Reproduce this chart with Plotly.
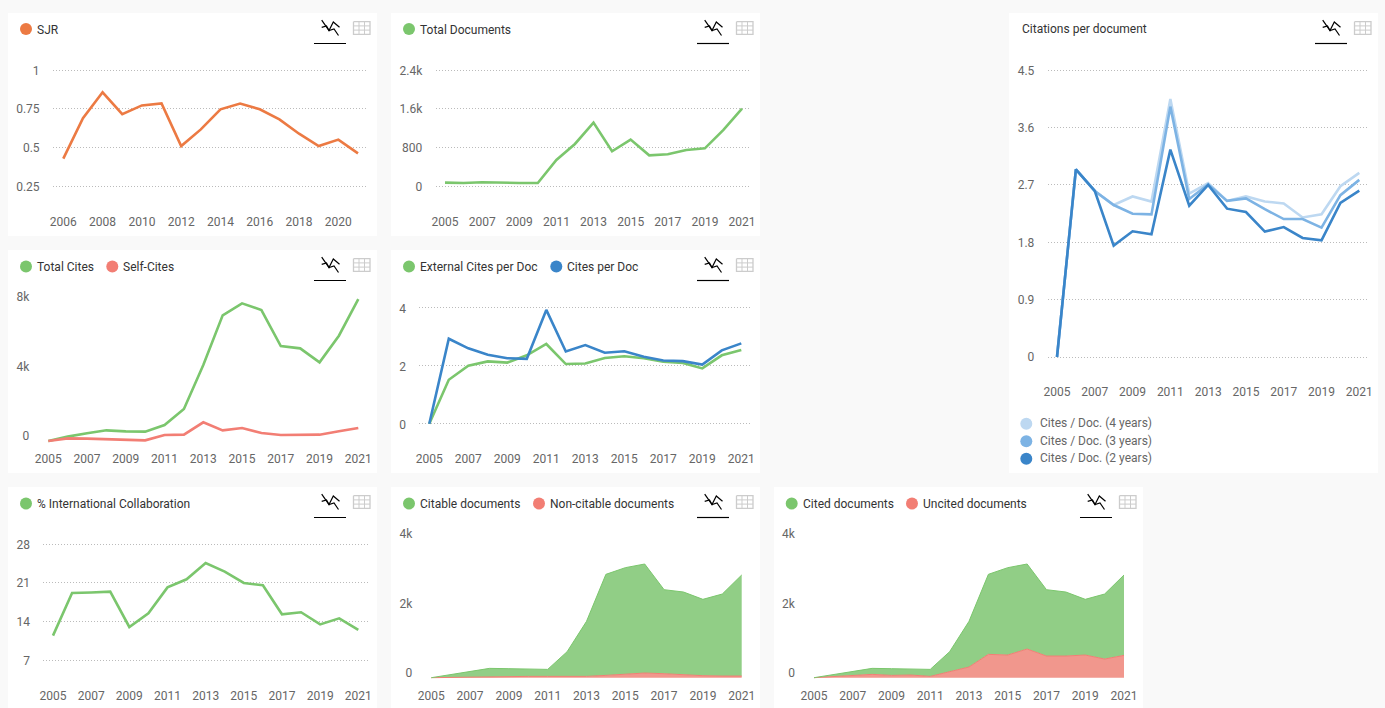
import plotly.graph_objects as go

W, H = 1385, 708
years = list(range(2005, 2022))
sjr_years = list(range(2006, 2022))

sjr = [0.429, 0.69, 0.858, 0.717, 0.773, 0.786, 0.51, 0.618, 0.748, 0.785, 0.748, 0.683, 0.59, 0.51, 0.552, 0.463]
total_documents = [76, 69, 83, 69, 69, 69, 545, 876, 1317, 724, 966, 641, 662, 752, 786, 1166, 1607]
total_cites = [0, 250, 440, 612, 555, 536, 918, 1837, 4364, 7215, 7904, 7520, 5455, 5320, 4517, 6047, 8153]
self_cites = [0, 153, 134, 115, 96, 38, 344, 364, 1072, 612, 746, 459, 344, 344, 364, 555, 746]
external_per_doc = [0, 1.51, 1.99, 2.14, 2.10, 2.35, 2.74, 2.05, 2.07, 2.26, 2.32, 2.25, 2.13, 2.09, 1.90, 2.35, 2.53]
cites_per_doc = [0, 2.92, 2.59, 2.37, 2.25, 2.23, 3.91, 2.48, 2.70, 2.44, 2.49, 2.30, 2.17, 2.15, 2.03, 2.52, 2.76]
intl_collab = [11.47, 19.19, 19.28, 19.43, 13.03, 15.5, 20.2, 21.66, 24.6, 23.05, 21.0, 20.58, 15.33, 15.7, 13.5, 14.6, 12.5]
citable = [0, 77, 153, 231, 222, 212, 202, 721, 1587, 2914, 3067, 3144, 2423, 2394, 2202, 2365, 2914]
non_citable = [0, 10, 20, 38, 38, 38, 38, 29, 38, 67, 106, 135, 115, 77, 58, 48, 48]
cited = [0, 58, 125, 173, 193, 173, 202, 577, 1317, 2308, 2519, 2452, 1913, 1846, 1606, 1875, 2318]
uncited = [0, 29, 48, 96, 67, 77, 38, 173, 308, 673, 654, 827, 625, 625, 654, 538, 644]
cpd_4y = [0, 2.945, 2.606, 2.385, 2.52, 2.44, 4.05, 2.565, 2.73, 2.45, 2.52, 2.44, 2.41, 2.19, 2.24, 2.68, 2.89]
cpd_3y = [0, 2.945, 2.606, 2.385, 2.249, 2.238, 3.93, 2.48, 2.71, 2.45, 2.49, 2.32, 2.165, 2.165, 2.03, 2.54, 2.78]
cpd_2y = [0, 2.945, 2.606, 1.748, 1.973, 1.926, 3.255, 2.375, 2.70, 2.328, 2.275, 1.968, 2.04, 1.868, 1.83, 2.42, 2.61]

GREEN, RED, ORANGE, BLUE = "#7BC66D", "#F27E74", "#EC7A43", "#3A85C9"
BLUE_L, BLUE_M = "#BDD8F1", "#7DB3E4"
GREEN_F, RED_F = "#91CE86", "#F1978D"
BG, TICK, LEG = "#F9F9F9", "#666666", "#333333"
FONT = "Roboto"

fig = go.Figure()
shapes, annos = [], []

def fx(p): return p / W
def fy(p): return 1 - p / H

def circle(cx, cy, color, r=6):
    shapes.append(dict(type="circle", xref="paper", yref="paper", x0=fx(cx - r), x1=fx(cx + r),
                       y0=fy(cy + r), y1=fy(cy - r), fillcolor=color, line=dict(width=0)))

def label(x, y, text, color=LEG):
    annos.append(dict(xref="paper", yref="paper", x=fx(x - 1.5), y=fy(y), text=text, showarrow=False,
                      xanchor="left", yanchor="middle", align="left",
                      font=dict(family=FONT, size=12, color=color)))

def seg(pts, color, width):
    d = "M " + " L ".join(f"{fx(x):.5f},{fy(y):.5f}" for x, y in pts)
    shapes.append(dict(type="path", xref="paper", yref="paper", path=d, line=dict(color=color, width=width)))

def card(x0, y0, x1, y1):
    shapes.append(dict(type="rect", layer="below", xref="paper", yref="paper", x0=fx(x0), x1=fx(x1),
                       y0=fy(y1), y1=fy(y0), fillcolor="#FFFFFF", line=dict(width=0)))
    L, T = x0, y0
    seg([(L + 306, T + 30.5), (L + 338, T + 30.5)], "#000000", 1.2)
    seg([(L + 313.7, T + 7.2), (L + 321, T + 17.5), (L + 325.3, T + 9), (L + 331.5, T + 14.3)], "#000000", 1.2)
    seg([(L + 313.7, T + 14.3), (L + 318.5, T + 13), (L + 321, T + 17.5), (L + 326, T + 16), (L + 330.5, T + 22.5)], "#000000", 1.2)
    seg([(L + 345.5, T + 8.7), (L + 362, T + 8.7), (L + 362, T + 21.3), (L + 345.5, T + 21.3), (L + 345.5, T + 8.7)], "#CCCCCC", 1.3)
    for k in (12.9, 17.1):
        seg([(L + 345.5, T + k), (L + 362, T + k)], "#CCCCCC", 1)
    for k in (351, 356.5):
        seg([(L + k, T + 8.7), (L + k, T + 21.3)], "#CCCCCC", 1)

def axes(i, gl, gr, x0px, x0v, x1px, x1v, ytop, ybot, y0px, y0v, y1px, y1v, tickx, tickvals, ticktext, grid=True, shift=0):
    sx = (x1v - x0v) / (x1px - x0px)
    sy = (y1v - y0v) / (y1px - y0px)
    xr = [x0v + (gl - x0px) * sx, x0v + (gr - x0px) * sx]
    yr = [y0v + (ybot - y0px) * sy, y0v + (ytop - y0px) * sy]
    xa = dict(domain=[fx(gl), fx(gr)], range=xr, tickvals=tickx, showgrid=False, zeroline=False, showline=False,
              automargin=False, ticks="", tickfont=dict(family=FONT, size=12, color=TICK), anchor=f"y{i}", tickangle=0)
    ya = dict(domain=[fy(ybot), fy(ytop)], range=yr, tickvals=tickvals, ticktext=ticktext, zeroline=False, showline=False,
              automargin=False, showgrid=grid, gridcolor="#BBBBBB", gridwidth=1, griddash="1px 2px",
              ticks="outside", ticklen=10, tickcolor="rgba(0,0,0,0)", tickwidth=1,
              tickfont=dict(family=FONT, size=12, color=TICK), anchor=f"x{i}")
    if shift:
        ya["ticklabelshift"] = shift
    fig.update_layout({f"xaxis{i}": xa, f"yaxis{i}": ya})

def line(i, x, y, color, name, width=2.6):
    fig.add_trace(go.Scatter(x=x, y=y, mode="lines", name=name, line=dict(color=color, width=width),
                             xaxis=f"x{i}", yaxis=f"y{i}", showlegend=False))

def area(i, y, color, fill, name):
    fig.add_trace(go.Scatter(x=years, y=y, mode="lines", name=name, stackgroup=f"s{i}", fillcolor=fill,
                             line=dict(color=color, width=1), xaxis=f"x{i}", yaxis=f"y{i}", showlegend=False))

odd_years = list(range(2005, 2022, 2))
even_years = list(range(2006, 2022, 2))

# Cards
card(8, 13, 377, 236)
card(391, 13, 760, 236)
card(1009, 13, 1378, 473)
card(8, 250, 377, 473)
card(391, 250, 760, 473)
card(8, 487, 377, 716)
card(391, 487, 760, 716)
card(774, 487, 1143, 716)

# 1 SJR
axes(1, 53, 368, 63.3, 2006, 358, 2021, 65, 213, 70.3, 1, 186.3, 0.25, even_years, [0.25, 0.5, 0.75, 1], ["0.25", "0.5", "0.75", "1"])
line(1, sjr_years, sjr, ORANGE, "SJR")
circle(26, 29, ORANGE); label(36, 29.7, "SJR")

# 2 Total documents
axes(2, 435.7, 750, 445, 2005, 742, 2021, 65, 213, 70.3, 2400, 186.3, 0, odd_years, [0, 800, 1600, 2400], ["0", "800", "1.6k", "2.4k"])
line(2, years, total_documents, GREEN, "Total Documents")
circle(409, 29, GREEN); label(419, 29.7, "Total Documents")

# 3 Total cites
axes(3, 42.7, 368, 48.3, 2005, 358.3, 2021, 290, 450, 441, 0, 301.7, 8000, odd_years, [0, 4000, 8000], ["0", "4k", "8k"], grid=False, shift=-5)
line(3, years, total_cites, GREEN, "Total Cites")
line(3, years, self_cites, RED, "Self-Cites")
circle(26, 266.5, GREEN); label(36, 267, "Total Cites")
circle(112.3, 266.5, RED); label(122, 267, "Self-Cites")

# 4 Cites per doc
axes(4, 419.3, 751, 429.3, 2005, 741.3, 2021, 300, 450, 307.3, 4, 423.7, 0, odd_years, [0, 2, 4], ["0", "2", "4"], shift=1)
line(4, years, external_per_doc, GREEN, "External Cites per Doc")
line(4, years, cites_per_doc, BLUE, "Cites per Doc")
circle(409, 266.5, GREEN); label(419, 267, "External Cites per Doc")
circle(556.3, 266.5, BLUE); label(566, 267, "Cites per Doc")

# 5 International collaboration
axes(5, 43.3, 368.3, 53, 2005, 358.3, 2021, 540, 687, 544.3, 28, 660.3, 7, odd_years, [7, 14, 21, 28], ["7", "14", "21", "28"])
line(5, years, intl_collab, GREEN, "% International Collaboration")
circle(26, 503.5, GREEN); label(36, 504, "% International Collaboration")

# 6 Citable
axes(6, 425.7, 751, 431.3, 2005, 741.7, 2021, 530, 687, 677.7, 0, 539, 4000, odd_years, [0, 2000, 4000], ["0", "2k", "4k"], grid=False, shift=-5)
area(6, non_citable, RED, RED_F, "Non-citable documents")
area(6, citable, GREEN, GREEN_F, "Citable documents")
circle(409, 503.5, GREEN); label(419, 504, "Citable documents")
circle(539, 503.5, RED); label(549, 504, "Non-citable documents")

# 7 Cited
axes(7, 808.3, 1134, 814, 2005, 1124, 2021, 530, 687, 677.7, 0, 539, 4000, odd_years, [0, 2000, 4000], ["0", "2k", "4k"], grid=False, shift=-5)
area(7, uncited, RED, RED_F, "Uncited documents")
area(7, cited, GREEN, GREEN_F, "Cited documents")
circle(791.7, 503.5, GREEN); label(802, 504, "Cited documents")
circle(912, 503.5, RED); label(922, 504, "Uncited documents")

# 8 Citations per document
axes(8, 1047.7, 1369, 1057, 2005, 1359.3, 2021, 65, 383, 70.3, 4.5, 357, 0, odd_years,
     [0, 0.9, 1.8, 2.7, 3.6, 4.5], ["0", "0.9", "1.8", "2.7", "3.6", "4.5"])
line(8, years, cpd_4y, BLUE_L, "Cites / Doc. (4 years)")
line(8, years, cpd_3y, BLUE_M, "Cites / Doc. (3 years)")
line(8, years, cpd_2y, BLUE, "Cites / Doc. (2 years)")
label(1021, 29, "Citations per document")
circle(1026.3, 423.7, BLUE_L); label(1039, 423, "Cites / Doc. (4 years)", TICK)
circle(1026.3, 441.3, BLUE_M); label(1039, 441, "Cites / Doc. (3 years)", TICK)
circle(1026.3, 458.7, BLUE); label(1039, 458, "Cites / Doc. (2 years)", TICK)

fig.update_layout(width=W, height=H, autosize=False, margin=dict(l=0, r=0, t=0, b=0, pad=0),
                  paper_bgcolor=BG, plot_bgcolor="rgba(0,0,0,0)", showlegend=False,
                  font=dict(family=FONT, size=12), shapes=shapes, annotations=annos)

fig.write_html("out.html", config=dict(displayModeBar=False), default_width=f"{W}px", default_height=f"{H}px",
               post_script="document.body.style.margin='0';document.body.style.overflow='hidden';")
